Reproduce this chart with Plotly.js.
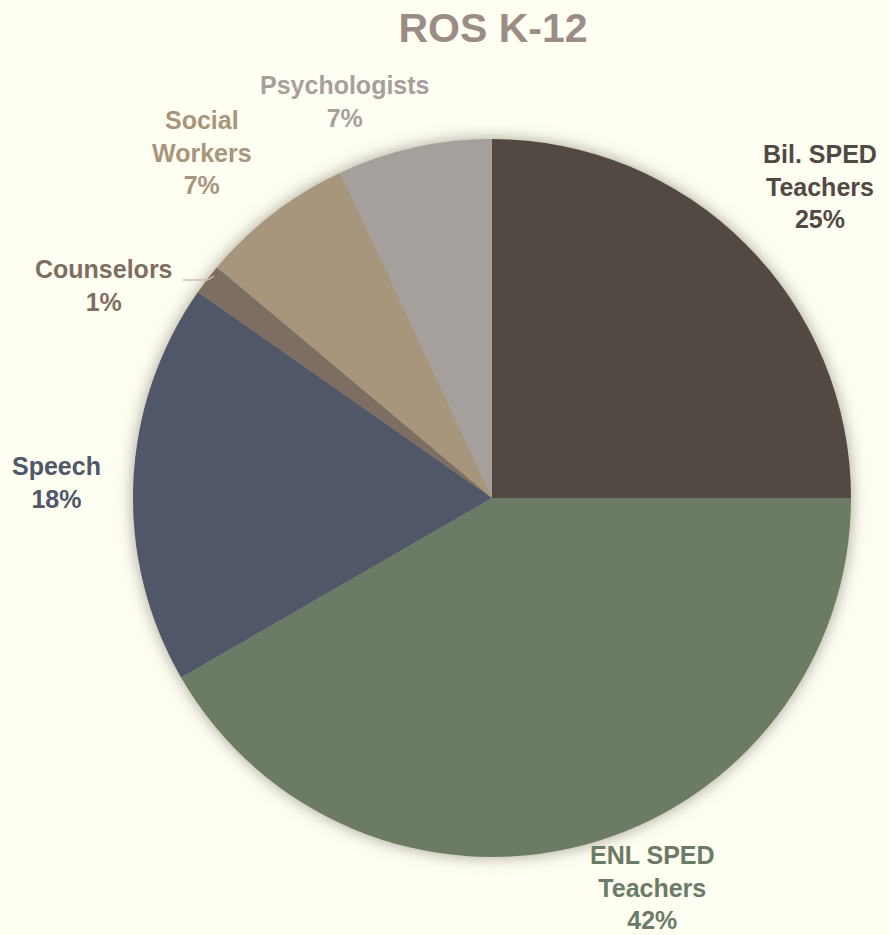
<!DOCTYPE html>
<html>
<head>
<meta charset="utf-8">
<script src="https://cdn.plot.ly/plotly-3.0.1.min.js"></script>
<style>
  html, body { margin: 0; padding: 0; background: #fefef3; }
  #chart { width: 889px; height: 935px; }
  .pielayer { filter: drop-shadow(0px 0px 8px rgba(80, 70, 50, 0.5)); }
</style>
</head>
<body>
<div id="chart"></div>
<script>
// Data (counts; percentages derived)
const categories = ["Bil. SPED Teachers", "ENL SPED Teachers", "Speech", "Counselors", "Social Workers", "Psychologists"];
const labelLines = ["Bil. SPED<br>Teachers", "ENL SPED<br>Teachers", "Speech", "Counselors", "Social<br>Workers", "Psychologists"];
const counts = [18, 30, 13, 1, 5, 5];
const colors = ["#524943", "#6b7b65", "#4f5769", "#7e6e62", "#a8967c", "#a6a09c"];

const W = 889, H = 935;
// label anchor positions (pixels) - layout only
const labelPos = [[820, 186], [652, 887], [57, 482], [104, 285], [202, 153], [345, 101]];

const total = counts.reduce((a, b) => a + b, 0);
const annotations = categories.map((c, i) => ({
  xref: "paper", yref: "paper",
  x: labelPos[i][0] / W, y: 1 - labelPos[i][1] / H,
  xanchor: "center", yanchor: "middle",
  text: "<b>" + labelLines[i] + "<br>" + Math.round(counts[i] / total * 100) + "%</b>",
  showarrow: false,
  align: "center",
  font: { family: "Liberation Sans, Arial, sans-serif", size: 25, color: colors[i] }
}));

const trace = {
  type: "pie",
  labels: categories,
  values: counts,
  marker: { colors: colors, line: { width: 0 } },
  sort: false,
  direction: "clockwise",
  rotation: 0,
  textinfo: "none",
  hoverinfo: "label+percent",
  domain: { x: [133 / W, 851 / W], y: [1 - 857 / H, 1 - 139 / H] }
};

const layout = {
  width: W, height: H,
  margin: { l: 0, r: 0, t: 0, b: 0 },
  paper_bgcolor: "#fefef3",
  plot_bgcolor: "#fefef3",
  showlegend: false,
  title: {
    text: "<b>ROS K-12</b>",
    x: 493 / W, xanchor: "center",
    y: 1 - 28 / H, yanchor: "middle",
    font: { family: "Liberation Sans, Arial, sans-serif", size: 41, color: "#9b8d86" }
  },
  annotations: annotations,
  shapes: [
    { type: "line", xref: "paper", yref: "paper",
      x0: 183 / W, y0: 1 - 280 / H, x1: 208 / W, y1: 1 - 280 / H,
      line: { color: "#c9bcb6", width: 1.5 } },
    { type: "line", xref: "paper", yref: "paper",
      x0: 208 / W, y0: 1 - 280 / H, x1: 214 / W, y1: 1 - 276 / H,
      line: { color: "#c9bcb6", width: 1.5 } }
  ]
};

Plotly.newPlot("chart", [trace], layout, { staticPlot: true });
</script>
</body>
</html>
